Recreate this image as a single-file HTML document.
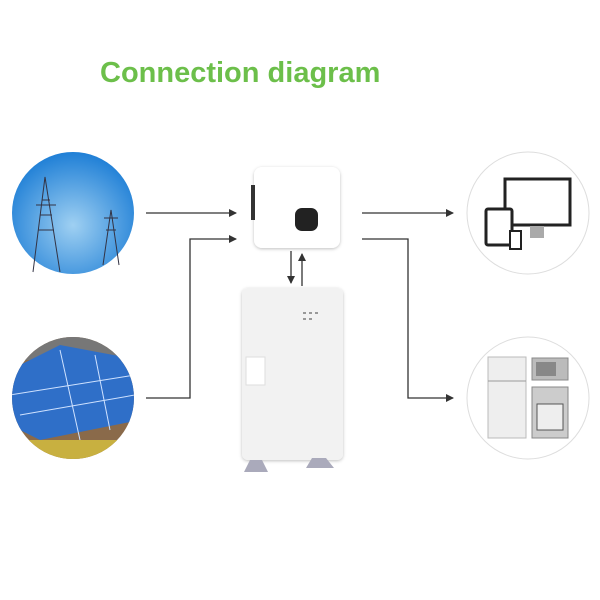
<!DOCTYPE html>
<html><head><style>
body{margin:0;width:600px;height:600px;background:#fff;overflow:hidden;position:relative;font-family:"Liberation Sans",sans-serif}
.t{position:absolute;left:100px;top:57px;font-size:29px;font-weight:bold;color:#6cbf4a;letter-spacing:0px}
</style></head><body>
<div class="t">Connection diagram</div>
<svg width="600" height="600" style="position:absolute;left:0;top:0">
<defs>
<radialGradient id="sky" cx="0.5" cy="0.6" r="0.6"><stop offset="0" stop-color="#9fd0f2"/><stop offset="1" stop-color="#1f7fd6"/></radialGradient>
<clipPath id="c2"><circle cx="73" cy="398" r="61"/></clipPath>
<marker id="a" markerWidth="8" markerHeight="8" refX="7" refY="4" orient="auto" markerUnits="userSpaceOnUse"><path d="M0,0 L8,4 L0,8z" fill="#333"/></marker>
<filter id="sh"><feDropShadow dx="0" dy="1" stdDeviation="1.5" flood-opacity="0.25"/></filter>
</defs>
<circle cx="73" cy="213" r="61" fill="url(#sky)"/>
<g stroke="#334" stroke-width="1" fill="none">
<path d="M33,272 L45,177 L60,272 M38,230 L54,230 M40,215 L52,215 M42,200 L50,200 M36,205 L56,205"/>
<path d="M103,265 L111,210 L119,265 M106,230 L116,230 M104,218 L118,218"/>
</g>
<g clip-path="url(#c2)">
<rect x="0" y="330" width="150" height="140" fill="#8a6a4a"/>
<rect x="0" y="330" width="150" height="30" fill="#777"/>
<path d="M0,375 L60,345 L140,360 L140,420 L40,440 L0,420z" fill="#2f6fc8"/>
<g stroke="#cfe2ff" stroke-width="1"><path d="M10,395 L135,375 M20,415 L135,395 M60,350 L80,440 M95,355 L110,430"/></g>
<rect x="0" y="440" width="150" height="30" fill="#c8b040"/>
</g>
<circle cx="528" cy="213" r="61" fill="#fff" stroke="#ddd"/>
<circle cx="528" cy="398" r="61" fill="#fff" stroke="#ddd"/>
<rect x="505" y="179" width="65" height="46" fill="#fff" stroke="#222" stroke-width="3"/>
<rect x="530" y="226" width="14" height="12" fill="#aaa"/>
<rect x="486" y="209" width="26" height="36" rx="2" fill="#fff" stroke="#222" stroke-width="3"/>
<rect x="510" y="231" width="11" height="18" fill="#fff" stroke="#222" stroke-width="2"/>
<rect x="488" y="357" width="38" height="81" fill="#eee" stroke="#bbb"/>
<line x1="488" y1="381" x2="526" y2="381" stroke="#999"/>
<rect x="532" y="358" width="36" height="22" fill="#bbb" stroke="#888"/>
<rect x="536" y="362" width="20" height="14" fill="#888"/>
<rect x="532" y="387" width="36" height="51" fill="#ccc" stroke="#888"/>
<rect x="537" y="404" width="26" height="26" fill="#eee" stroke="#555"/>
<g stroke="#333" stroke-width="1.3" fill="none" marker-end="url(#a)">
<path d="M146,213 L236,213"/>
<path d="M146,398 L190,398 L190,239 L236,239"/>
<path d="M362,213 L453,213"/>
<path d="M362,239 L408,239 L408,398 L453,398"/>
<path d="M291,251 L291,283"/>
<path d="M302,286 L302,254"/>
</g>
<rect x="254" y="167" width="86" height="81" rx="8" fill="#fff" filter="url(#sh)"/>
<rect x="251" y="185" width="4" height="35" fill="#333"/>
<rect x="295" y="208" width="23" height="23" rx="7" fill="#222"/>
<rect x="242" y="288" width="101" height="172" rx="6" fill="#f2f2f2" filter="url(#sh)"/>
<rect x="246" y="357" width="19" height="28" fill="#fff" stroke="#ddd"/>
<g fill="#999"><rect x="303" y="312" width="3" height="2"/><rect x="309" y="312" width="3" height="2"/><rect x="315" y="312" width="3" height="2"/><rect x="303" y="318" width="3" height="2"/><rect x="309" y="318" width="3" height="2"/></g>
<path d="M250,460 L262,460 L268,472 L244,472z M312,458 L326,458 L334,468 L306,468z" fill="#aab"/>
</svg>
</body></html>
